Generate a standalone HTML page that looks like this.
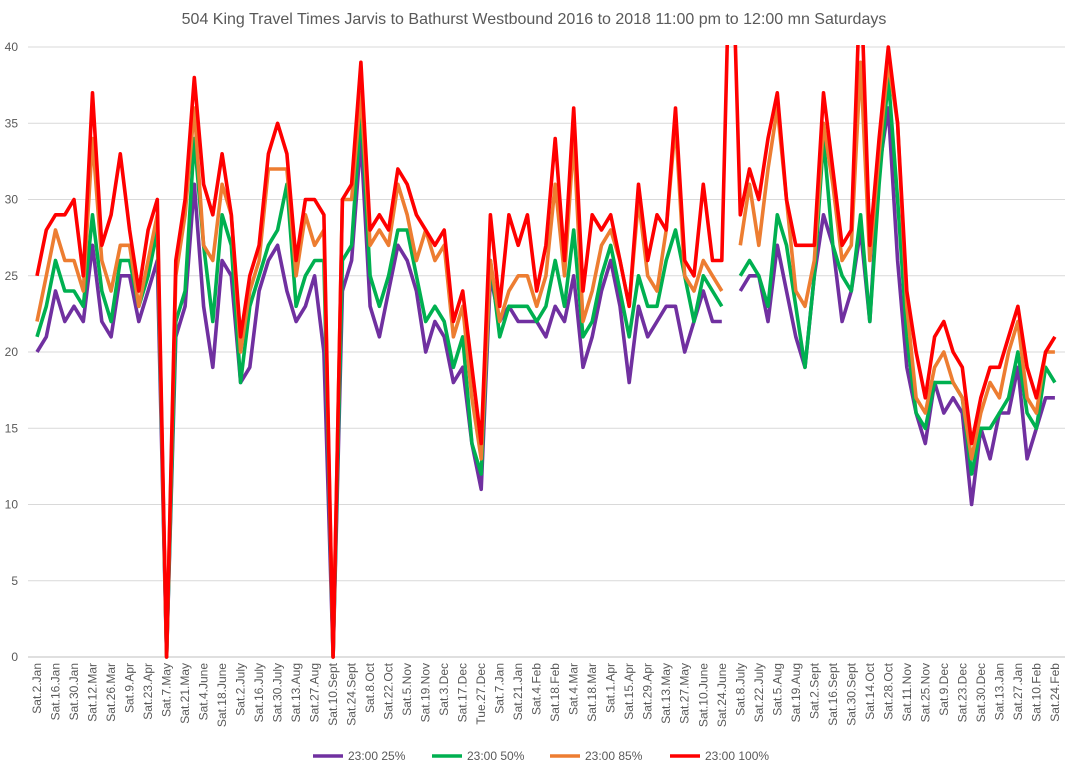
<!DOCTYPE html>
<html><head><meta charset="utf-8"><style>
body{margin:0;background:#fff;font-family:"Liberation Sans",Arial,sans-serif;}
svg{display:block}
</style></head><body>
<svg id="chart" width="1069" height="773" xmlns="http://www.w3.org/2000/svg">
<text x="534" y="24" text-anchor="middle" font-size="16" fill="#595959">504 King Travel Times Jarvis to Bathurst Westbound 2016 to 2018 11:00 pm to 12:00 mn Saturdays</text>
<defs><clipPath id="plotclip"><rect x="28" y="45" width="1041" height="614"/></clipPath></defs>
<g id="grid"></g><g id="yticks"></g><g id="xticks"></g><g id="series" clip-path="url(#plotclip)"></g><g id="legend"></g>
</svg>
<script>
const labels=["Sat.2.Jan","Sat.16.Jan","Sat.30.Jan","Sat.12.Mar","Sat.26.Mar","Sat.9.Apr","Sat.23.Apr","Sat.7.May","Sat.21.May","Sat.4.June","Sat.18.June","Sat.2.July","Sat.16.July","Sat.30.July","Sat.13.Aug","Sat.27.Aug","Sat.10.Sept","Sat.24.Sept","Sat.8.Oct","Sat.22.Oct","Sat.5.Nov","Sat.19.Nov","Sat.3.Dec","Sat.17.Dec","Tue.27.Dec","Sat.7.Jan","Sat.21.Jan","Sat.4.Feb","Sat.18.Feb","Sat.4.Mar","Sat.18.Mar","Sat.1.Apr","Sat.15.Apr","Sat.29.Apr","Sat.13.May","Sat.27.May","Sat.10.June","Sat.24.June","Sat.8.July","Sat.22.July","Sat.5.Aug","Sat.19.Aug","Sat.2.Sept","Sat.16.Sept","Sat.30.Sept","Sat.14.Oct","Sat.28.Oct","Sat.11.Nov","Sat.25.Nov","Sat.9.Dec","Sat.23.Dec","Sat.30.Dec","Sat.13.Jan","Sat.27.Jan","Sat.10.Feb","Sat.24.Feb"];
const yTicks=[0,5,10,15,20,25,30,35,40];
const seriesNames=["23:00 25%","23:00 50%","23:00 85%","23:00 100%"];
const p25=[20,21,24,22,23,22,27,22,21,25,25,22,24,26,0,21,23,31,23,19,26,25,18,19,24,26,27,24,22,23,25,20,0,24,26,34,23,21,24,27,26,24,20,22,21,18,19,14,11,25,22,23,22,22,22,21,23,22,25,19,21,24,26,23,18,23,21,22,23,23,20,22,24,22,22,null,24,25,25,22,27,24,21,19,25,29,27,22,24,28,22,32,36,26,19,16,14,18,16,17,16,10,15,13,16,16,19,13,15,17,17];
const p50=[21,23,26,24,24,23,29,24,22,26,26,23,25,28,0,22,24,34,27,22,29,27,18,23,25,27,28,31,23,25,26,26,0,26,27,36,25,23,25,28,28,25,22,23,22,19,21,14,12,26,21,23,23,23,22,23,26,23,28,21,22,25,27,24,21,25,23,23,26,28,25,22,25,24,23,null,25,26,25,23,29,27,23,19,25,34,27,25,24,29,22,31,38,30,21,16,15,18,18,18,17,12,15,15,16,17,20,16,15,19,18];
const p85=[22,25,28,26,26,24,34,26,24,27,27,23,26,29,0,25,29,36,27,26,31,29,20,24,26,32,32,32,25,29,27,28,0,30,30,37,27,28,27,31,29,26,28,26,27,21,23,17,13,26,22,24,25,25,23,25,31,25,34,22,24,27,28,26,23,30,25,24,28,35,25,24,26,25,24,null,27,31,27,32,36,30,24,23,26,35,31,26,27,39,26,33,39,35,23,17,16,19,20,18,17,13,16,18,17,20,22,17,16,20,20];
const p100=[25,28,29,29,30,25,37,27,29,33,28,24,28,30,0,26,30,38,31,29,33,29,21,25,27,33,35,33,26,30,30,29,0,30,31,39,28,29,28,32,31,29,28,27,28,22,24,19,14,29,23,29,27,29,24,27,34,26,36,24,29,28,29,26,23,31,26,29,28,36,26,25,31,26,26,50,29,32,30,34,37,30,27,27,27,37,32,27,28,45,27,34,40,35,24,20,17,21,22,20,19,14,17,19,19,21,23,19,17,20,21];
const colors=["#7030A0","#00B050","#ED7D31","#FF0000"];
const NS="http://www.w3.org/2000/svg";
const L=32.4,R=1059.5,T=47,B=657,N=p25.length;
const step=(R-L)/N;
function xPos(i){return L+step*(i+0.5);}
function yPos(v){return B-(v/40)*(B-T);}
function mk(tag,attrs,parent){const e=document.createElementNS(NS,tag);for(const k in attrs)e.setAttribute(k,attrs[k]);parent.appendChild(e);return e;}
const grid=document.getElementById('grid'),yt=document.getElementById('yticks'),xt=document.getElementById('xticks'),sg=document.getElementById('series'),lg=document.getElementById('legend');
yTicks.forEach(v=>{
  const ln=mk('line',{x1:28,x2:1065,y1:yPos(v),y2:yPos(v),stroke:v===0?'#bfbfbf':'#d9d9d9','stroke-width':1},grid);
  
  
  const t=mk('text',{x:18,y:yPos(v)+4,'text-anchor':'end','font-size':12,fill:'#595959'},yt);
  t.textContent=v;
  
  
});
labels.forEach((lab,k)=>{
  const x=xPos(k*2);
  const t=mk('text',{x:0,y:0,'text-anchor':'end','font-size':12,fill:'#595959',transform:'translate('+(x+4)+','+(B+6)+') rotate(-90)'},xt);
  t.textContent=lab;
  
  
});
[p25,p50,p85,p100].forEach((arr,s)=>{
  let d='',pen=false;
  arr.forEach((v,i)=>{
    if(v===null){pen=false;return;}
    d+=(pen?'L':'M')+xPos(i).toFixed(1)+' '+yPos(v).toFixed(1)+' ';pen=true;
  });
  const p=mk('path',{d:d,fill:'none',stroke:colors[s],'stroke-width':3.6,'stroke-linejoin':'round'},sg);
  
  
});
const lx=[313,432,550,670];
seriesNames.forEach((n,s)=>{
  const g=mk('g',{},lg);
  
  
  mk('line',{x1:lx[s],x2:lx[s]+30,y1:756,y2:756,stroke:colors[s],'stroke-width':3.6},g);
  const t=mk('text',{x:lx[s]+35,y:760,'font-size':12,fill:'#595959'},g);
  t.textContent=n;
});
</script>
</body></html>
